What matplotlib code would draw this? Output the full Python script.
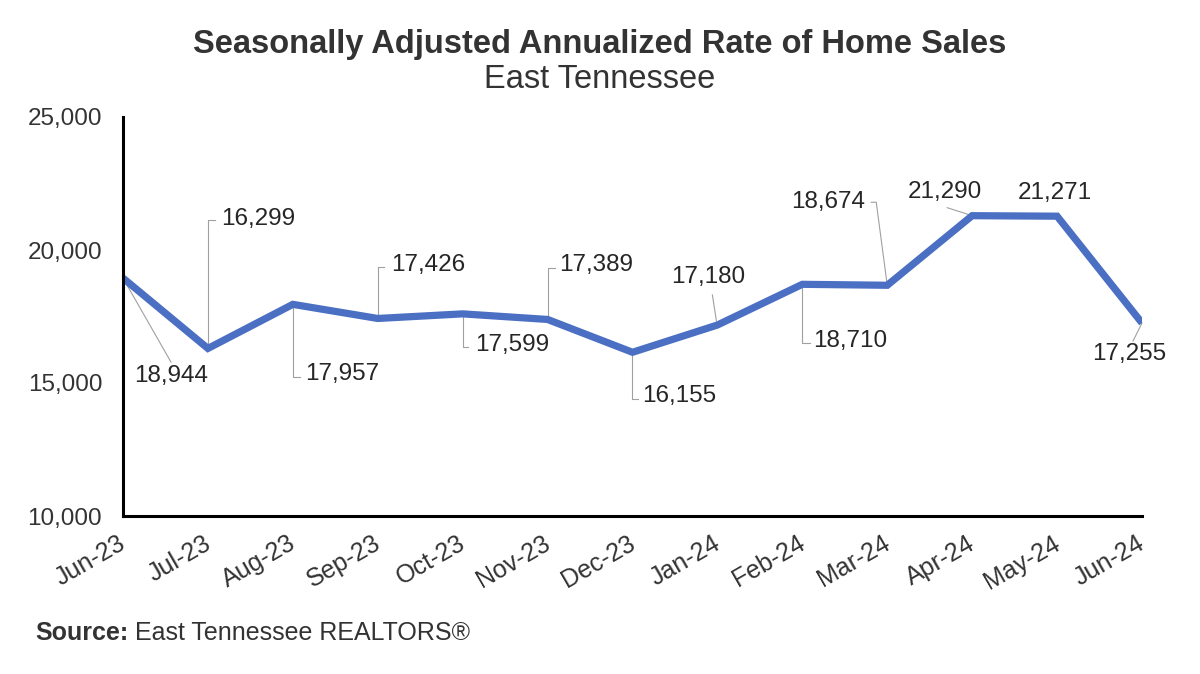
import matplotlib
matplotlib.use("Agg")
import matplotlib.pyplot as plt
import matplotlib.transforms as mtransforms
from matplotlib.ticker import FuncFormatter

# ---- data ----
months = ["Jun-23", "Jul-23", "Aug-23", "Sep-23", "Oct-23", "Nov-23", "Dec-23",
          "Jan-24", "Feb-24", "Mar-24", "Apr-24", "May-24", "Jun-24"]
sales = [18944, 16299, 17957, 17426, 17599, 17389, 16155,
         17180, 18710, 18674, 21290, 21271, 17255]
y_ticks = [10000, 15000, 20000, 25000]

title = "Seasonally Adjusted Annualized Rate of Home Sales"
subtitle = "East Tennessee"
source_bold = "Source:"
source_rest = " East Tennessee REALTORS®"

# ---- label placement (pixel offsets from each point, y up) ----
label_pos = [
    ("center", 48.5, -98, [(0, 0), (48, -84)]),
    ("left", 13, 129, [(0, 0), (0, 128), (7, 128)]),
    ("left", 12, -70, [(0, 0), (0, -73), (7, -73)]),
    ("left", 13, 53, [(0, 0), (0, 51), (6, 51)]),
    ("left", 12, -31, [(0, 0), (0, -33), (5, -33)]),
    ("left", 12, 54, [(0, 0), (0, 51), (7, 51)]),
    ("left", 10, -44, [(0, 0), (0, -47), (6, -47)]),
    ("center", -9.5, 48, [(-1, 4), (-5, 30)]),
    ("left", 11, -57, [(0, 0), (0, -59), (8, -59)]),
    ("right", -22, 83, [(0, 0), (-11, 83), (-16, 83)]),
    ("center", -27.5, 24, [(0, 0), (-25, 8)]),
    ("center", -2, 23, []),
    ("center", -13, -31, [(0, 0), (-9, -18)]),
]

plt.rcParams["font.family"] = ["Liberation Sans", "DejaVu Sans"]
TXT = "#333333"
LINE = "#4A6FC3"

fig = plt.figure(figsize=(12, 6.74), dpi=100)
ax = fig.add_axes([123 / 1200, 1 - 516 / 674, (1142 - 123) / 1200, (516 - 117) / 674])

x = list(range(len(months)))
ax.plot(x, sales, color=LINE, lw=5.2, solid_joinstyle="miter", solid_capstyle="butt", zorder=3)

ax.set_xlim(0, len(months) - 1)
ax.set_ylim(10000, 25000)
ax.set_yticks(y_ticks)
ax.yaxis.set_major_formatter(FuncFormatter(lambda v, p: f"{int(v):,}"))
ax.set_xticks(x)

for s in ["top", "right"]:
    ax.spines[s].set_visible(False)
for s in ["left", "bottom"]:
    ax.spines[s].set_linewidth(2.2)
    ax.spines[s].set_color("black")
    ax.spines[s].set_zorder(4)
ax.tick_params(axis="y", length=0, pad=15, labelsize=17.5, labelcolor=TXT)
ax.tick_params(axis="x", length=0, pad=11, labelsize=18, labelcolor=TXT)

ax.set_xticklabels(months, rotation=30, ha="right", va="top")
shift = mtransforms.ScaledTranslation(7 / 100, 0, fig.dpi_scale_trans)
for lab in ax.get_xticklabels():
    lab.set_transform(lab.get_transform() + shift)

fig.canvas.draw()
inv = ax.transData.inverted()
for i, (v, (ha, dx, dy, leader)) in enumerate(zip(sales, label_pos)):
    px, py = ax.transData.transform((i, v))
    ax.annotate(f"{v:,}", xy=(i, v), xytext=(dx, dy), textcoords="offset pixels",
                ha=ha, va="center", fontsize=17.5, color="#262626", annotation_clip=False, zorder=5)
    if leader:
        pts = [inv.transform((px + ox, py + oy)) for ox, oy in leader]
        ax.plot([p[0] for p in pts], [p[1] for p in pts], color="#A0A0A0", lw=0.8,
                clip_on=False, zorder=2)

fig.text(0.5, 1 - 45 / 674, title, ha="center", va="center", fontsize=23.5,
         fontweight="bold", color=TXT)
fig.text(0.5, 1 - 80 / 674, subtitle, ha="center", va="center", fontsize=23.5, color=TXT)

t1 = fig.text(35 / 1200, 1 - 633 / 674, source_bold, ha="left", va="center", fontsize=18,
              fontweight="bold", color=TXT)
fig.canvas.draw()
bb = t1.get_window_extent(fig.canvas.get_renderer())
fig.text(bb.x1 / 1200, 1 - 633 / 674, source_rest, ha="left", va="center", fontsize=18, color=TXT)

fig.savefig("out.png", dpi=100)
